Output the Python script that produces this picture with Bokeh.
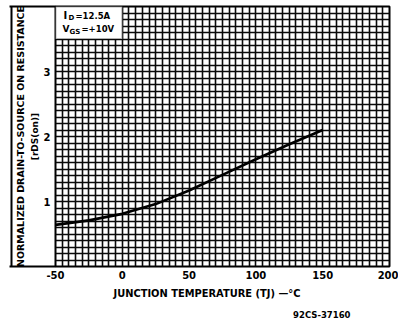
import numpy as np
from bokeh.plotting import figure
from bokeh.models import (FixedTicker, BoxAnnotation, Label, ColumnDataSource, Title, LinearAxis)
from bokeh.embed import file_html
from bokeh.resources import INLINE

# ---- data ----
temp_c = [-50, -25, 0, 25, 50, 75, 100, 125, 150]
rds_norm = [0.64, 0.71, 0.81, 0.96, 1.17, 1.41, 1.65, 1.88, 2.10]
x_ticks = [-50, 0, 50, 100, 150, 200]
y_ticks = [1, 2, 3]
x_title = "JUNCTION TEMPERATURE (TJ) \u2014\u00b0C"
y_title = "NORMALIZED DRAIN-TO-SOURCE ON RESISTANCE"
y_title2 = "[rDS(on)]"
fig_code = "92CS-37160"

FONT = "DejaVu Sans"

p = figure(width=398, height=324, x_range=(-50, 200), y_range=(0, 4),
           output_backend="svg", toolbar_location=None,
           min_border_left=55, min_border_right=9, min_border_top=6, min_border_bottom=52)
p.background_fill_color = "white"
p.border_fill_color = "white"
p.outline_line_color = "black"
p.outline_line_width = 2

# grid
p.xgrid.ticker = FixedTicker(ticks=list(np.arange(-45, 200, 5)))
p.ygrid.ticker = FixedTicker(ticks=[round(v, 2) for v in np.arange(0.1, 4.0, 0.1)])
for g in (p.xgrid, p.ygrid):
    g.grid_line_color = "#0a0a0a"
    g.grid_line_width = 1.6
    g.grid_line_alpha = 1.0

# axes
xax = p.xaxis[0]
yax = p.yaxis[0]
xax.ticker = FixedTicker(ticks=x_ticks)
xax.major_label_overrides = {t: str(t) for t in x_ticks}
yax.ticker = FixedTicker(ticks=y_ticks, minor_ticks=[0, 4])
for ax in (xax, yax):
    ax.axis_line_color = None
    ax.major_tick_line_color = None
    ax.major_tick_out = 0
    ax.major_tick_in = 0
    ax.minor_tick_in = 0
    ax.major_label_text_font = FONT
    ax.major_label_text_font_style = "bold"
    ax.major_label_text_font_size = "10px"
    ax.major_label_text_color = "black"
xax.minor_tick_line_color = None
xax.minor_tick_out = 0
# minor ticks at 0 and 4 form top/bottom edges of the title box
yax.minor_tick_line_color = "black"
yax.minor_tick_line_width = 2
yax.minor_tick_out = 46
xax.major_label_standoff = 4
yax.major_label_standoff = -41

# curve
src = ColumnDataSource(dict(t=temp_c, r=rds_norm))
p.line("t", "r", source=src, line_color="black", line_width=2.6)

# condition box
p.add_layout(BoxAnnotation(left=-50, right=0, top=4, bottom=3.5, fill_color="white",
                           fill_alpha=1, line_color="black", line_width=2))

def lab(text, x, y, size="9px"):
    p.add_layout(Label(text=text, x=x - 55, y=y, x_units="screen", y_units="data",
                       text_font=FONT, text_font_style="bold", text_font_size=size,
                       text_color="black", text_align="left", text_baseline="middle"))

# conditions text
lab("I", 63, 3.86, "10px")
lab("D", 68, 3.82, "7px")
lab("=12.5A", 75, 3.86, "8.5px")
lab("V", 62, 3.65, "9px")
lab("GS", 69, 3.61, "7px")
lab("=+10V", 81, 3.65, "8.5px")

def title(text, side, size="9px", align="center", offset=0, standoff=0):
    t = Title(text=text, align=align, offset=offset, standoff=standoff,
              text_font=FONT, text_font_style="bold", text_font_size=size,
              text_color="black")
    p.add_layout(t, side)

title(x_title, "below", "9.9px", align="left", offset=58, standoff=8)
title(fig_code, "below", "8.5px", align="right", offset=39, standoff=10)
title(y_title2, "left", "9px", standoff=2)
title(y_title, "left", "9.5px", standoff=2)

# spacer and outermost left axis: its line forms the left edge of the title box
spacer = LinearAxis(ticker=FixedTicker(ticks=[]), axis_line_color=None,
                    major_tick_line_color=None, minor_tick_line_color=None,
                    major_tick_out=8, major_tick_in=0, minor_tick_out=0, minor_tick_in=0,
                    major_label_standoff=0)
p.add_layout(spacer, "left")
edge = LinearAxis(ticker=FixedTicker(ticks=[]), axis_line_color="black", axis_line_width=2,
                  major_tick_line_color=None, minor_tick_line_color=None,
                  major_tick_out=0, major_tick_in=0, minor_tick_out=0, minor_tick_in=0,
                  major_label_standoff=0)
p.add_layout(edge, "left")

open("out.html", "w").write(file_html(p, INLINE))
